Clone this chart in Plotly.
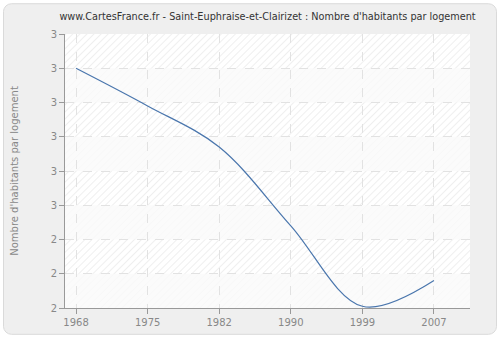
import plotly.graph_objects as go
import base64

years = ["1968", "1975", "1982", "1990", "1999", "2007"]
values = [2.90, 2.79, 2.67, 2.44, 2.205, 2.28]
y_ticks = [2.2, 2.3, 2.4, 2.5, 2.6, 2.7, 2.8, 2.9, 3.0]
y_tick_labels = ["2", "2", "2", "3", "3", "3", "3", "3", "3"]

title = "www.CartesFrance.fr - Saint-Euphraise-et-Clairizet : Nombre d'habitants par logement"

W, H = 500, 340
ML, MR, MT, MB = 65, 30, 34, 30
PW, PH = W - ML - MR, H - MT - MB

fig = go.Figure()
fig.add_trace(go.Scatter(
    x=years, y=values, mode="lines",
    line=dict(color="#4a76ad", width=1.2, shape="spline", smoothing=1.0),
    hoverinfo="skip", showlegend=False,
))

# background: rounded panel + hatched plot area (decorative image)
svg = (f'<svg xmlns="http://www.w3.org/2000/svg" width="{W}" height="{H}" viewBox="0 0 {W} {H}">'
       '<defs><pattern id="p" width="5" height="5" patternUnits="userSpaceOnUse" patternTransform="rotate(45)">'
       '<rect width="5" height="5" fill="#ffffff"/><line x1="0" y1="0" x2="0" y2="5" stroke="#e9e9e9" stroke-width="1.4"/></pattern></defs>'
       f'<rect x="0" y="0" width="{W}" height="{H}" fill="#ffffff"/>'
       f'<rect x="3.5" y="3.5" width="{W-7}" height="{H-7}" rx="8" ry="8" fill="#efefef" stroke="#dadada" stroke-width="1"/>'
       f'<rect x="{ML}" y="{MT}" width="{PW}" height="{PH}" fill="url(#p)"/>'
       '</svg>')
src = "data:image/svg+xml;base64," + base64.b64encode(svg.encode()).decode()
fig.add_layout_image(dict(source=src, xref="paper", yref="paper",
                          x=-ML / PW, y=1 + MT / PH, sizex=W / PW, sizey=H / PH,
                          sizing="stretch", layer="below", xanchor="left", yanchor="top"))

shapes = []
for lo, hi in [(2.2, 2.3), (2.4, 2.5), (2.6, 2.7), (2.8, 2.9)]:
    shapes.append(dict(type="rect", xref="paper", yref="y", x0=0, x1=1, y0=lo, y1=hi,
                       fillcolor="rgba(250,250,250,0.8)", line=dict(width=0), layer="below"))
fig.update_layout(shapes=shapes)

fig.update_layout(
    width=W, height=H,
    margin=dict(l=ML, r=MR, t=MT, b=MB),
    paper_bgcolor="rgba(0,0,0,0)",
    plot_bgcolor="rgba(0,0,0,0)",
    font=dict(family="DejaVu Sans", size=10, color="#888888"),
    title=dict(text=title, x=(ML + W - MR) / 2 / W, xanchor="center", y=1 - 17 / H, yanchor="middle",
               font=dict(family="DejaVu Sans", size=9.7, color="#333333")),
    xaxis=dict(type="category", range=[-0.154, 5.503], showline=True, linecolor="#999999", linewidth=1,
               ticks="outside", ticklen=5, tickcolor="#999999", showgrid=True, gridcolor="#e2e2e2",
               griddash="dash", gridwidth=1, zeroline=False, tickfont=dict(size=10, color="#888888")),
    yaxis=dict(range=[2.2, 3.0], tickvals=y_ticks, ticktext=y_tick_labels, showline=True,
               linecolor="#999999", linewidth=1, ticks="outside", ticklen=5, tickcolor="#999999",
               showgrid=True, gridcolor="#e2e2e2", griddash="dash", gridwidth=1, zeroline=False,
               tickfont=dict(size=10, color="#888888"),
               title=dict(text="Nombre d'habitants par logement", font=dict(size=10, color="#888888"), standoff=30)),
)
fig.write_html("out.html")
